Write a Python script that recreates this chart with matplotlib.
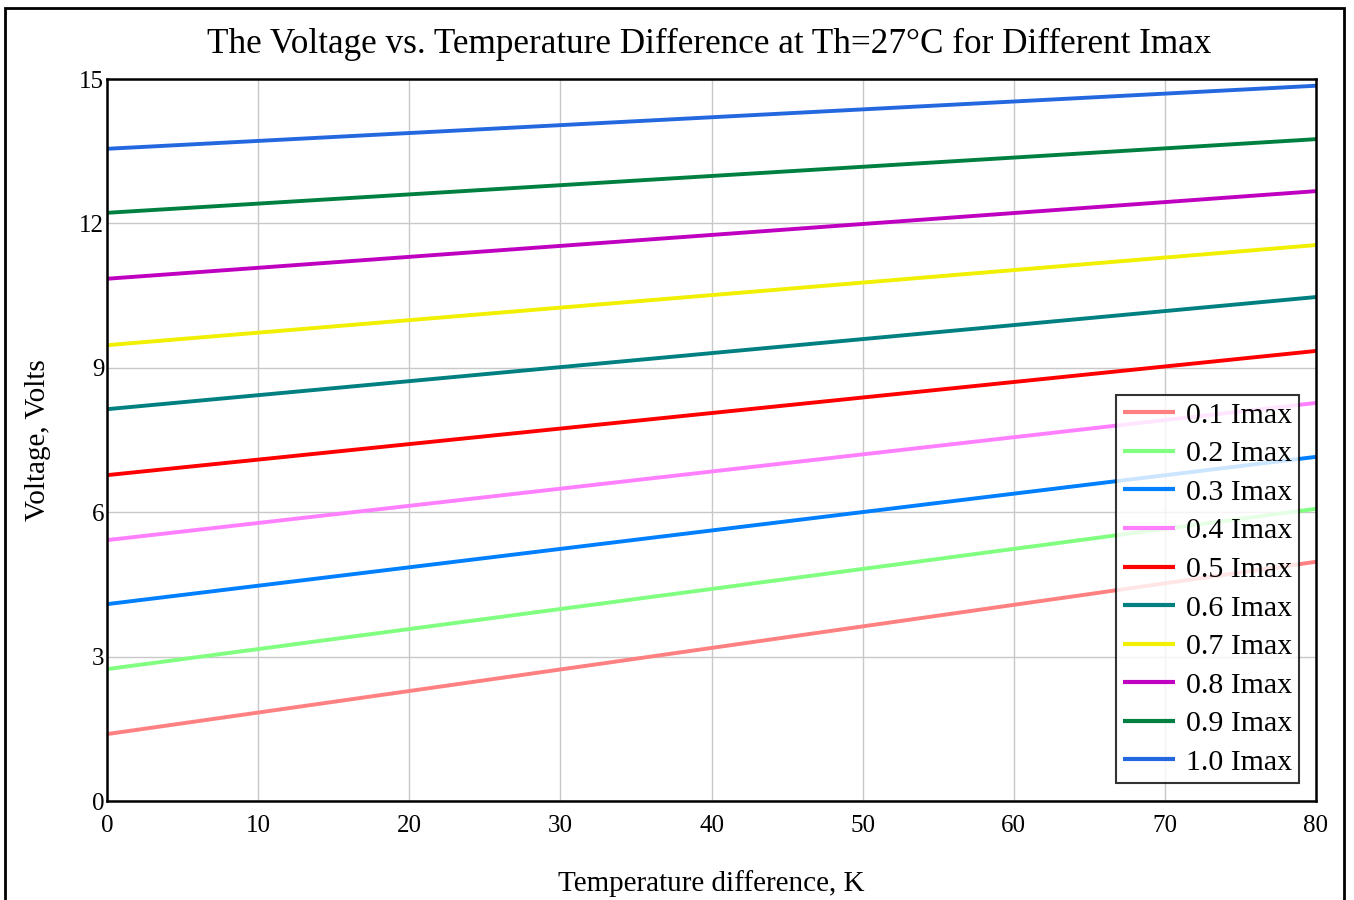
import matplotlib
matplotlib.use("Agg")
import matplotlib.pyplot as plt
from matplotlib.patches import Rectangle

plt.rcParams['font.family'] = ['Liberation Serif', 'DejaVu Serif']

labels = ["0.1 Imax", "0.2 Imax", "0.3 Imax", "0.4 Imax", "0.5 Imax",
          "0.6 Imax", "0.7 Imax", "0.8 Imax", "0.9 Imax", "1.0 Imax"]
dT = [0, 80]
v_start = [1.39, 2.74, 4.09, 5.42, 6.77, 8.14, 9.47, 10.85, 12.22, 13.55]
v_end = [4.97, 6.07, 7.15, 8.27, 9.35, 10.47, 11.55, 12.67, 13.75, 14.86]
colors = ["#ff8080", "#80ff80", "#0080ff", "#ff80ff", "#ff0000",
          "#008080", "#f0f000", "#c000c0", "#008040", "#2468e0"]
xticks = [0, 10, 20, 30, 40, 50, 60, 70, 80]
yticks = [0, 3, 6, 9, 12, 15]

fig = plt.figure(figsize=(13.54, 9.0), dpi=100)
ax = fig.add_axes([107/1354, 1 - 801/900, (1316-107)/1354, (801-79)/900])

for lab, a, b, c in zip(labels, v_start, v_end, colors):
    ax.plot(dT, [a, b], color=c, lw=2.8, label=lab, solid_capstyle='butt')

ax.set_xlim(0, 80)
ax.set_ylim(0, 15)
ax.set_xticks(xticks)
ax.set_yticks(yticks)
ax.tick_params(length=0, labelsize=18, pad=2)
ax.tick_params(axis='x', pad=10)
ax.grid(True, color='#c8c8c8', lw=1)
ax.set_axisbelow(True)
for s in ax.spines.values():
    s.set_linewidth(1.8)
    s.set_color('black')

ax.set_xlabel("Temperature difference, K", fontsize=21, labelpad=24)
ax.set_ylabel("Voltage, Volts", fontsize=21, labelpad=20)
fig.text(709/1354, 1 - 44/900, "The Voltage vs. Temperature Difference at Th=27\u00b0C for Different Imax",
         ha='center', va='center', fontsize=25.3)

leg = ax.legend(loc='lower right', bbox_to_anchor=(0.986, 0.025), borderaxespad=0,
                fontsize=21.5, frameon=True, fancybox=False, handlelength=1.75,
                handletextpad=0.35, labelspacing=0.39, borderpad=0.24)
leg.get_frame().set_edgecolor('black')
leg.get_frame().set_linewidth(1.5)
for h in leg.get_lines():
    h.set_linewidth(3)

fig.patches.append(Rectangle((5/1354, -0.05), (1344-5)/1354, 1.05 - 8/900,
                             transform=fig.transFigure, fill=False,
                             edgecolor='black', lw=2))

fig.savefig("out.png", dpi=100)
